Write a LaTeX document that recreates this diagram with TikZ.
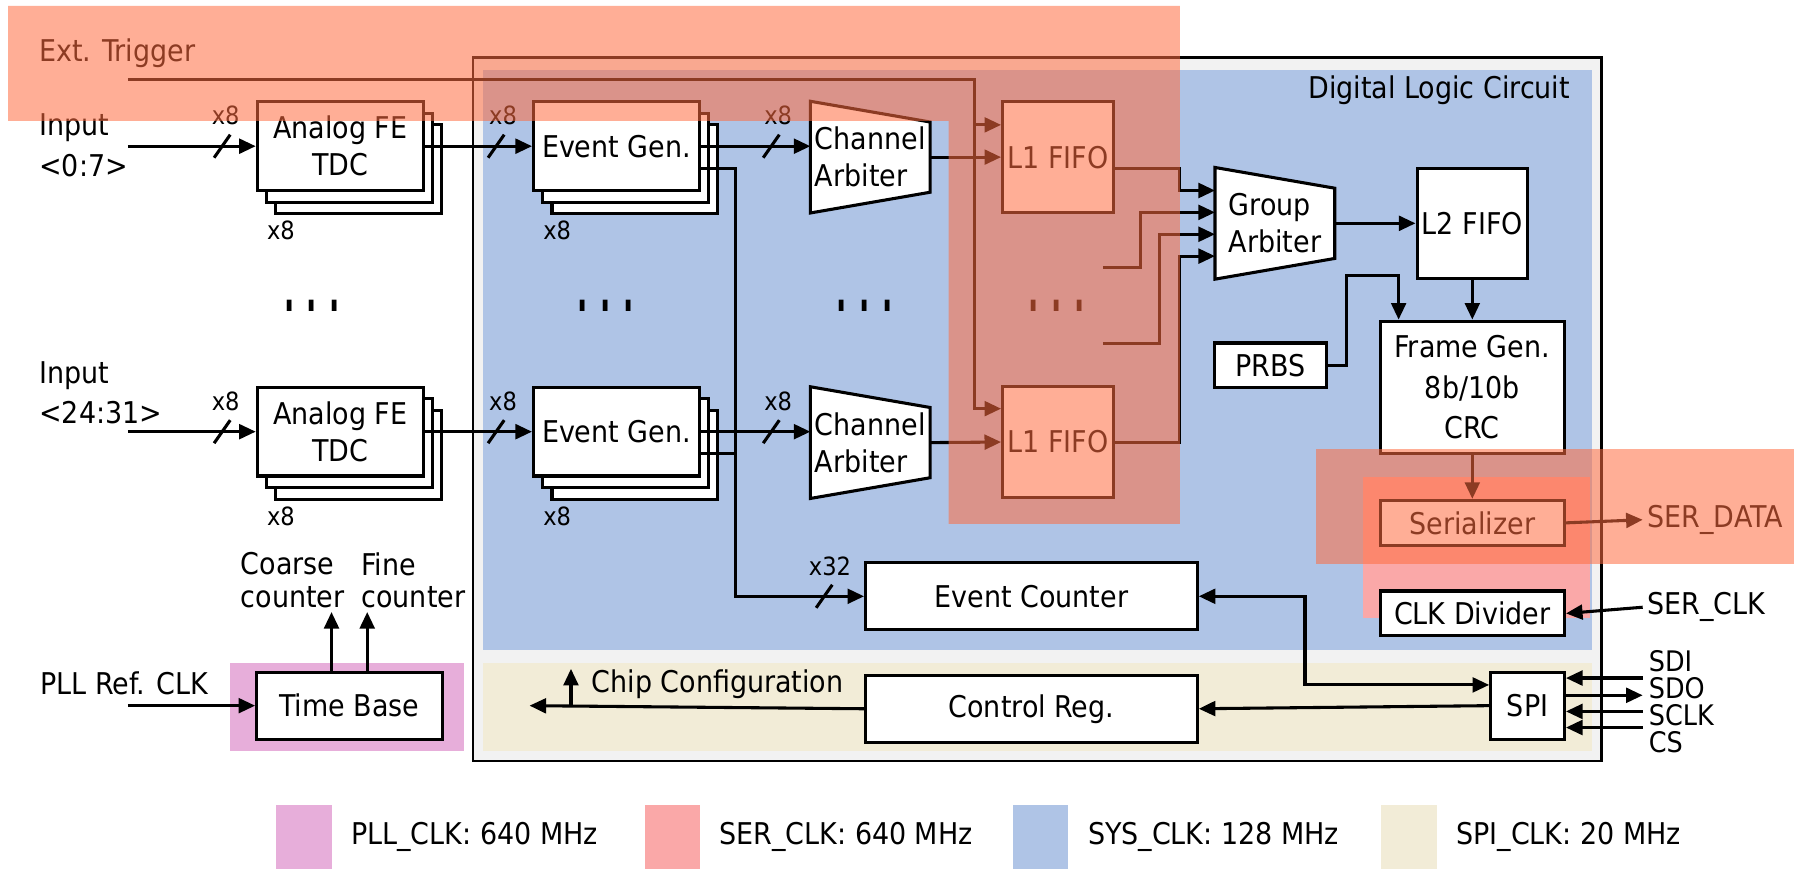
\documentclass[tikz,border=0pt]{standalone}
\usepackage{fontspec}
\setmainfont{DejaVu Sans Condensed}
\usepackage{graphicx}
\usetikzlibrary{positioning,shadows,arrows.meta}

\definecolor{sysclk}{RGB}{175,196,230}
\definecolor{spiclk}{RGB}{242,236,215}
\definecolor{pllclk}{RGB}{231,174,218}
\definecolor{serclk}{RGB}{250,168,168}
\definecolor{trigclk}{RGB}{255,108,64}
\definecolor{dlcgray}{RGB}{242,242,242}

\tikzset{%
  % Specifications for style of nodes:
         block/.style = {rectangle, draw=black, line width=1.9pt, fill=white, inner sep=0pt, align=center},
         stack/.style = {block, minimum width=3.6cm, minimum height=1.925cm,
                         copy shadow={shadow xshift=0.4cm, shadow yshift=-0.5cm, draw=black, fill=white},
                         copy shadow={shadow xshift=0.2cm, shadow yshift=-0.25cm, draw=black, fill=white}},
         fifo/.style  = {block, minimum width=2.4cm, minimum height=2.4cm},
         wide/.style  = {block, minimum width=4cm, minimum height=0.975cm},
         reg/.style   = {block, minimum width=7.2cm, minimum height=1.45cm},
         arb/.style   = {rectangle, minimum width=2.6cm, minimum height=2.425cm, inner sep=0pt, outer sep=0pt},
         trap/.style  = {draw=black, line width=1.9pt, fill=white},
         mult/.style  = {font=\fontsize{15.5}{18}\selectfont},
         pin/.style   = {anchor=west, inner sep=0pt, font=\fontsize{17.5}{20}\selectfont},
         band/.style  = {fill=trigclk, fill opacity=0.55},
}

\begin{document}
\begin{tikzpicture}[x=0.025cm, y=-0.025cm, line width=1.9pt, >={Triangle[length=0.36cm, width=0.32cm]},
    every node/.style={font=\fontsize{18.5}{23}\selectfont, inner sep=2pt}]
    \fill[white] (0,0) rectangle (1568,755);
    \useasboundingbox (0,0) rectangle (1568,755);

    % Clock domains
    \draw[line width=1.6pt, fill=dlcgray] (411,50) rectangle (1391,661);
    \fill[sysclk] (420,61) rectangle (1383,565);
    \fill[spiclk] (420,576) rectangle (1383,652);
    \fill[pllclk] (200,576) rectangle (403,652);
    \fill[serclk] (1184,414) rectangle (1381,537);
    \node (dlc) [anchor=east] at (1368,78) {Digital Logic Circuit};

    % Draw nodes
    \node (afeA)   [stack]                    at (295.5,127)  {Analog FE\\TDC};
    \node (afeB)   [stack]                    at (295.5,375)  {Analog FE\\TDC};
    \node (egA)    [stack]                    at (535.5,127)  {Event Gen.};
    \node (egB)    [stack]                    at (535.5,375)  {Event Gen.};

    \foreach \nm/\xy/\txt in {chA/{756,136.5}/Channel, chB/{756,384.5}/Channel, grp/{1107.5,194}/Group} {
        \node (\nm) [arb] at (\xy) {};
        \draw[trap] (\nm.north west) -- ([yshift=-0.45cm]\nm.north east) -- ([yshift=0.45cm]\nm.south east) -- (\nm.south west) -- cycle;
        \node (\nm-t) [align=left] at (\nm) {\txt\\Arbiter};
    }

    \node (l1A)    [fifo]                     at (919,136.5)  {L1 FIFO};
    \node (l1B)    [fifo]                     at (919,384)    {L1 FIFO};
    \node (l2)     [fifo]                     at (1279,194)   {L2 FIFO};
    \node (fgen)   [block, minimum width=4cm, minimum height=2.875cm, font=\fontsize{18.5}{25}\selectfont] at (1279,336.5) {Frame Gen.\\8b/10b\\CRC};
    \node (ser)    [wide, below=0.95cm of fgen]               {Serializer};
    \node (clkdiv) [wide, below=0.925cm of ser]               {CLK Divider};
    \node (prbs)   [block, minimum width=2.425cm, minimum height=0.975cm] at (1103.5,317.5) {PRBS};
    \node (ecnt)   [reg]                      at (896,518)    {Event Counter};
    \node (ctrl)   [reg, below=0.925cm of ecnt]               {Control Reg.};
    \node (spi)    [block, minimum width=1.6cm, minimum height=1.45cm] at (1327,613) {SPI};
    \node (tbase)  [block, minimum width=4.025cm, minimum height=1.45cm] at (303.5,613) {Time Base};

    % Labels
    \node (trigtxt) [anchor=west] at (30,46) {Ext. Trigger};
    \node (inAtxt)  [anchor=west, align=left, font=\fontsize{18.5}{25.5}\selectfont] at (30,126) {Input\\<0:7>};
    \node (inBtxt)  [anchor=west, align=left, font=\fontsize{18.5}{25}\selectfont] at (30,341) {Input\\<24:31>};
    \node (plltxt)  [anchor=west] at (31,594) {PLL Ref. CLK};
    \node (coarse)  [anchor=west, align=left, font=\fontsize{18.5}{20}\selectfont] at (205,504) {Coarse\\counter};
    \node (fine)    [anchor=west, align=left, font=\fontsize{18.5}{20}\selectfont] at (310,504) {Fine\\counter};
    \node (cfgtxt)  [anchor=west] at (510,594) {Chip Configuration};
    \node (serdata) [anchor=west] at (1427,451.5) {SER\_DATA};
    \node (serclk)  [anchor=west] at (1427,527.5) {SER\_CLK};
    \node (sditxt)  [pin] at (1431,574) {SDI};
    \node (sdotxt)  [pin] at (1431,597.5) {SDO};
    \node (sclktxt) [pin] at (1431,621) {SCLK};
    \node (cstxt)   [pin] at (1431,645) {CS};

    \foreach \x [count=\i] in {271,526,751,918}
        \node (dots\i) at (\x,266) {\scalebox{1}[2]{\bfseries . . .}};

    \foreach \x/\y [count=\i] in {196/100, 437/100, 676/100, 196/349, 437/349, 676/349, 244/200, 484/200, 244/449, 484/449}
        \node (n\i) [mult] at (\x,\y) {x8};
    \node (n32) [mult] at (721,492) {x32};

    % Free ends
    \coordinate (trig)   at (111,69);
    \coordinate (inA)    at (111,127);
    \coordinate (inB)    at (111,375);
    \coordinate (pllin)  at (111,613);
    \coordinate (bus)    at (639,518);
    \coordinate (dotA)   at (958,232);
    \coordinate (dotB)   at (958,298);
    \coordinate (cfgout) at (460,613);
    \coordinate (sdi)    at (1427,589);
    \coordinate (sdo)    at (1427,604);
    \coordinate (sclk)   at (1427,618);
    \coordinate (cs)     at (1427,632);

    % Draw arrows
    \draw[->] (inA) -- (afeA.west);
    \draw[->] (inB) -- (afeB.west);
    \draw[->] (afeA.east) -- (egA.west);
    \draw[->] (afeB.east) -- (egB.west);
    \draw[->] (egA.east) -- (egA.east -| chA.west);
    \draw[->] (egB.east) -- (egB.east -| chB.west);
    \draw[->] (chA.east) -- (l1A.west);
    \draw[->] (chB.east) -- (l1B.west);

    \draw[->] ([yshift=-0.475cm]egA.east) -| (bus) -- (ecnt.west);
    \draw     ([yshift=-0.475cm]egB.east) -| (bus);

    \draw[->] (trig) -| ([xshift=-0.575cm, yshift=0.725cm]l1B.west) -- ([yshift=0.725cm]l1B.west);
    \draw[->] ([xshift=-0.575cm, yshift=0.7cm]l1A.west) -- ([yshift=0.7cm]l1A.west);

    \draw[->] ([yshift=-0.2375cm]l1A.east) -- ++(56,0) |- ([yshift=0.7125cm]grp.west);
    \draw[->] (dotA) -- ++(33,0) |- ([yshift=0.2375cm]grp.west);
    \draw[->] (dotB) -- ++(49,0) |- ([yshift=-0.2375cm]grp.west);
    \draw[->] (l1B.east) -- ++(56,0) |- ([yshift=-0.7125cm]grp.west);

    \draw[->] (grp.east) -- (l2.west);
    \draw[->] (l2.south) -- (fgen.north);
    \draw[->] (prbs.east) -- ++(16,0) |- ([xshift=-1.6cm, yshift=0.95cm]fgen.north) -- ([xshift=-1.6cm]fgen.north);
    \draw[->] (fgen.south) -- (ser.north);
    \draw[->] (ser.east) -- (serdata.west);
    \draw[->] (serclk.west) -- (clkdiv.east);

    \draw[<->] ([yshift=0.45cm]spi.west) -- ++(-160,0) |- (ecnt.east);
    \draw[->] (spi.west) -- (ctrl.east);
    \draw[->] (ctrl.west) -- (cfgout);
    \draw[->] ([xshift=0.9cm]cfgout) -- ++(0,-32);

    \draw[->] (sdi) -- (spi.east |- sdi);
    \draw[->] (spi.east |- sdo) -- (sdo);
    \draw[->] (sclk) -- (spi.east |- sclk);
    \draw[->] (cs) -- (spi.east |- cs);

    \draw[->] (pllin) -- (tbase.west);
    \draw[->] ([xshift=-0.3875cm]tbase.north) -- ++(0,-51);
    \draw[->] ([xshift=0.3875cm]tbase.north) -- ++(0,-51);

    % Bus marks
    \foreach \x/\y in {193/127, 431/127, 670/127, 193/375, 431/375, 670/375, 716/518}
        \draw (\x-7,\y+10) -- (\x+7,\y-10);

    % Legend
    \foreach \c/\x/\t [count=\i] in {pllclk/240/{PLL\_CLK: 640 MHz}, serclk/560/{SER\_CLK: 640 MHz}, sysclk/880/{SYS\_CLK: 128 MHz}, spiclk/1200/{SPI\_CLK: 20 MHz}} {
        \fill[\c] (\x,699) rectangle ++(48,56);
        \node (leg\i) [anchor=west] at (\x+61,727) {\t};
    }

    % Ext. Trigger highlight
    \fill[band] (7,5) -- (1025,5) -- (1025,455) -- (824,455) -- (824,105) -- (7,105) -- cycle;
    \fill[band] (1143,390) rectangle (1558,490);
\end{tikzpicture}
\end{document}
